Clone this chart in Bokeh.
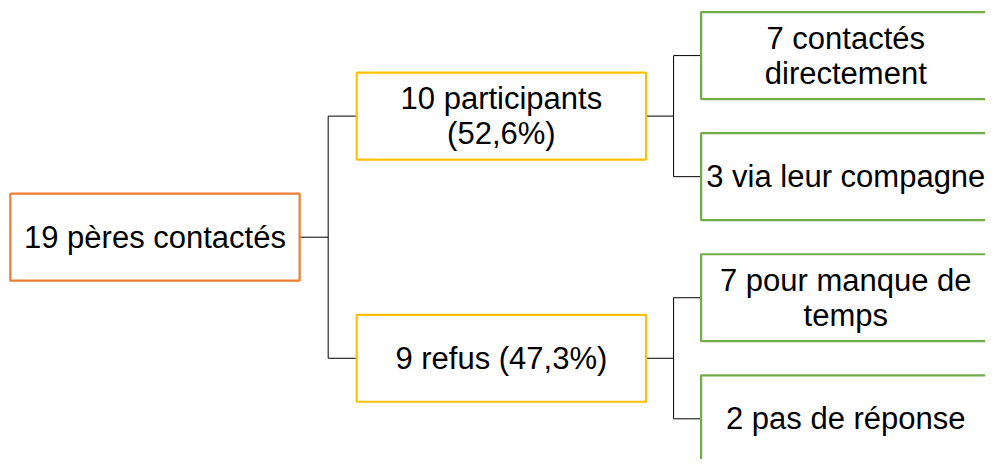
from bokeh.plotting import figure
from bokeh.models import Range1d, ColumnDataSource
from bokeh.core.properties import value
from bokeh.embed import file_html
from bokeh.resources import INLINE

# ---- data ----
root_label = ["19 pères contactés"]
level1_labels = ["10 participants\n(52,6%)", "9 refus (47,3%)"]
level2_labels = ["7 contactés\ndirectement", "3 via leur compagne",
                 "7 pour manque de\ntemps", "2 pas de réponse"]
level2_parent = [0, 0, 1, 1]

# ---- layout (reference pixel units) ----
W, H = 985, 459
REF_W, REF_H = 1001, 475
col_left = [10, 362, 712]
box_w = 294
box_h = 90
leaf_top = 57
leaf_step = 125.3
colors = ["#ED7D31", "#FFC000", "#70AD47"]
font = "Liberation Sans"

leaf_y = [leaf_top + i * leaf_step for i in range(len(level2_labels))]
l1_y = []
for k in range(len(level1_labels)):
    ys = [leaf_y[i] for i in range(len(level2_labels)) if level2_parent[i] == k]
    l1_y.append(sum(ys) / len(ys))
root_y = [sum(l1_y) / len(l1_y)]

p = figure(width=W, height=H, output_backend="svg", toolbar_location=None,
           x_range=Range1d(0, REF_W), y_range=Range1d(REF_H, 0),
           min_border=0)
p.axis.visible = False
p.grid.visible = False
p.outline_line_color = None
p.background_fill_color = "white"

# connectors
xs, ys = [], []
def connect(parent_x_right, parent_y, child_x_left, child_ys):
    mid = (parent_x_right + child_x_left) / 2
    xs.append([parent_x_right, mid]); ys.append([parent_y, parent_y])
    xs.append([mid, mid]); ys.append([min(child_ys), max(child_ys)])
    for cy in child_ys:
        xs.append([mid, child_x_left]); ys.append([cy, cy])

connect(col_left[0] + box_w, root_y[0], col_left[1], l1_y)
for k in range(len(level1_labels)):
    cys = [leaf_y[i] for i in range(len(level2_labels)) if level2_parent[i] == k]
    connect(col_left[1] + box_w, l1_y[k], col_left[2], cys)
p.multi_line(xs=xs, ys=ys, line_color="black", line_width=1)

levels = [(root_label, root_y), (level1_labels, l1_y), (level2_labels, leaf_y)]
for lvl, (labels, yc) in enumerate(levels):
    n = len(labels)
    src = ColumnDataSource(dict(
        x=[col_left[lvl] + box_w / 2] * n, y=yc, text=labels))
    p.rect(x="x", y="y", width=box_w, height=box_h, source=src,
           fill_color="white", line_color=colors[lvl], line_width=2.2)
    p.text(x="x", y="y", text="text", source=src, text_align="center",
           text_baseline="middle", text_font=value(font),
           text_font_size="31px", text_color="black", text_line_height=1.0)

open("out.html", "w").write(file_html(p, INLINE))
